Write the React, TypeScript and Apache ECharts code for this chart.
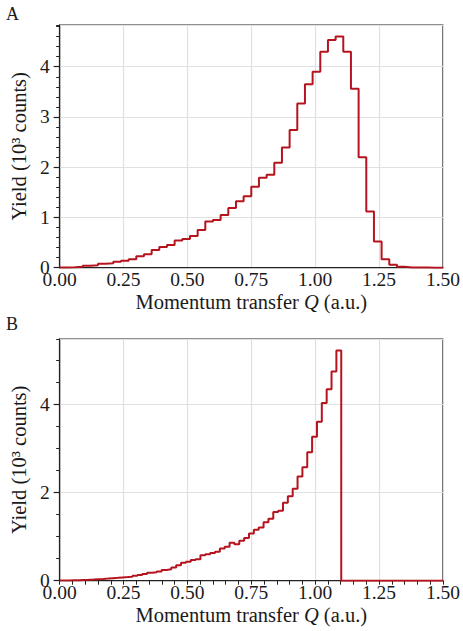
import React, { useEffect, useRef } from 'react';
import * as echarts from 'echarts';

// ---- data ----
const xMin = 0;
const xMax = 1.5;
const xInterval = 0.25;

// Panel A: histogram, bins of width 0.03 from 0 to 1.50 (values in 10^3 counts)
const topBinWidth = 0.03;
const topYield = [
  0.003, 0.01, 0.02, 0.04, 0.05, 0.08, 0.09, 0.12, 0.14, 0.17,
  0.23, 0.27, 0.35, 0.41, 0.45, 0.54, 0.57, 0.63, 0.75, 0.92,
  0.95, 1.05, 1.19, 1.32, 1.42, 1.61, 1.79, 1.85, 2.09, 2.39,
  2.74, 3.27, 3.65, 3.9, 4.3, 4.53, 4.6, 4.3, 3.56, 2.2,
  1.12, 0.52, 0.17, 0.06, 0.02, 0.006, 0.003, 0.002, 0.001, 0.001,
];

// Panel B: histogram, bins of width 0.019 from 0 up to the cut-off near 1.10
const bottomBinWidth = 0.019;
const bottomYield = [
  0.003, 0.006, 0.01, 0.012, 0.018, 0.022, 0.028, 0.035, 0.04, 0.048,
  0.058, 0.065, 0.075, 0.082, 0.09, 0.11, 0.13, 0.15, 0.18, 0.19,
  0.21, 0.245, 0.26, 0.3, 0.35, 0.41, 0.43, 0.47, 0.49, 0.58,
  0.6, 0.63, 0.66, 0.73, 0.77, 0.86, 0.83, 0.91, 0.97, 1.07,
  1.16, 1.21, 1.33, 1.41, 1.56, 1.59, 1.77, 1.92, 2.09, 2.37,
  2.58, 2.92, 3.27, 3.61, 4.04, 4.35, 4.755, 5.23,
];

const topYInterval = 1;
const topYMinor = 0.2;
const bottomYInterval = 2;
const bottomYMinor = 0.5;

const panelLabels = ['A', 'B'];
const xName = 'Momentum transfer {q|Q} (a.u.)';
const yName = 'Yield (10³ counts)';

// ---- styling ----
const FONT = "'Liberation Serif', 'Times New Roman', serif";
const RED = '#b5141e';
const INK = '#1a1a1a';
const AXIS = '#222222';
const GRIDC = '#e0e0e0';

function histData(values: number[], width: number, endAt: number) {
  const pts: [number, number][] = values.map((v, i) => [+(i * width).toFixed(4), v]);
  const lastEdge = +(values.length * width).toFixed(4);
  if (lastEdge < endAt) {
    pts.push([lastEdge, 0]);
    pts.push([endAt, 0]);
  } else {
    pts.push([endAt, values[values.length - 1]]);
  }
  return pts;
}

function xAxisFor(gridIndex: number, ticks: boolean) {
  return {
    type: 'value',
    gridIndex,
    min: xMin,
    max: xMax,
    interval: xInterval,
    axisLine: { show: true, onZero: false, lineStyle: { color: AXIS, width: 1.2 } },
    axisTick: { show: ticks, length: 4, lineStyle: { color: AXIS, width: 1 } },
    minorTick: { show: ticks, splitNumber: 5, length: 4, lineStyle: { color: AXIS, width: 1 } },
    axisLabel: {
      margin: 2,
      fontFamily: FONT,
      fontSize: 19.5,
      color: INK,
      formatter: (v: number) => v.toFixed(2),
    },
    splitLine: { show: true, lineStyle: { color: GRIDC, width: 1.2 } },
    name: xName,
    nameLocation: 'middle',
    nameGap: 24,
    nameTextStyle: {
      fontFamily: FONT,
      fontSize: 20.5,
      color: INK,
      rich: { q: { fontFamily: FONT, fontSize: 20.5, fontStyle: 'italic', color: INK } },
    },
  };
}

function yAxesFor(gridIndex: number, max: number, interval: number, minor: number) {
  return [
    {
      type: 'value',
      gridIndex,
      position: 'left',
      min: 0,
      max,
      interval,
      axisLine: { show: true, onZero: false, lineStyle: { color: AXIS, width: 1.2 } },
      axisTick: { show: true, length: 6, lineStyle: { color: AXIS, width: 1.2 } },
      axisLabel: {
        showMaxLabel: false,
        margin: 10,
        fontFamily: FONT,
        fontSize: 19.5,
        color: INK,
        formatter: (v: number) => String(Math.round(v)),
      },
      splitLine: { show: true, lineStyle: { color: GRIDC, width: 1.2 } },
      name: yName,
      nameLocation: 'middle',
      nameGap: 24,
      nameTextStyle: { fontFamily: FONT, fontSize: 20.5, color: INK },
    },
    {
      type: 'value',
      gridIndex,
      position: 'left',
      min: 0,
      max,
      interval: minor,
      axisLine: { show: false },
      axisTick: { show: true, length: 3.5, lineStyle: { color: AXIS, width: 1 } },
      axisLabel: { show: false },
      splitLine: { show: false },
    },
  ];
}

export default function App() {
  const ref = useRef<HTMLDivElement>(null);

  useEffect(() => {
    if (!ref.current) return;
    const chart = echarts.init(ref.current, null, { renderer: 'svg' });
    const topMax = Math.max(...topYield) * 1.05;
    const bottomMax = Math.max(...bottomYield) * 1.05;

    chart.setOption({
      animation: false,
      backgroundColor: '#ffffff',
      grid: [
        { left: 52.3, top: 25, width: 392.7, height: 242.7, show: true, borderColor: AXIS, borderWidth: 1.2, backgroundColor: 'transparent' },
        { left: 52.3, top: 339, width: 392.7, height: 241.7, show: true, borderColor: AXIS, borderWidth: 1.2, backgroundColor: 'transparent' },
      ],
      xAxis: [xAxisFor(0, false), xAxisFor(1, true)],
      yAxis: [
        ...yAxesFor(0, topMax, topYInterval, topYMinor),
        ...yAxesFor(1, bottomMax, bottomYInterval, bottomYMinor),
      ],
      series: [
        {
          type: 'line',
          xAxisIndex: 0,
          yAxisIndex: 0,
          step: 'end',
          symbol: 'none',
          silent: true,
          data: histData(topYield, topBinWidth, xMax),
          lineStyle: { color: RED, width: 2 },
        },
        {
          type: 'line',
          xAxisIndex: 1,
          yAxisIndex: 2,
          step: 'end',
          symbol: 'none',
          silent: true,
          data: histData(bottomYield, bottomBinWidth, xMax),
          lineStyle: { color: RED, width: 2 },
        },
      ],
      graphic: [
        { type: 'text', left: 6, top: 5, style: { text: panelLabels[0], fontFamily: FONT, fontSize: 18, fill: INK } },
        { type: 'text', left: 6, top: 315, style: { text: panelLabels[1], fontFamily: FONT, fontSize: 18, fill: INK } },
      ],
    });

    return () => chart.dispose();
  }, []);

  return (
    <div
      ref={ref}
      style={{ position: 'fixed', left: 0, top: 0, width: 463, height: 631, background: '#fff' }}
    />
  );
}
